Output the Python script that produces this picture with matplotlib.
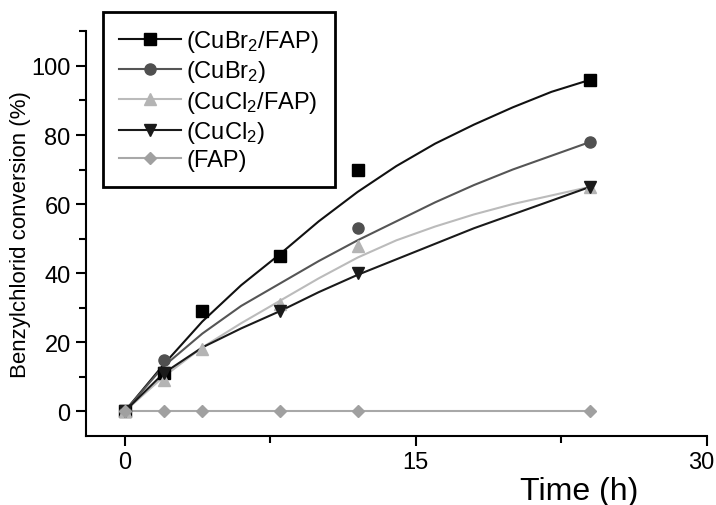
import numpy as np
import matplotlib
matplotlib.use("Agg")
import matplotlib.pyplot as plt
import matplotlib.transforms as mtransforms

plt.rcParams["font.family"] = ["Liberation Sans", "DejaVu Sans"]
plt.rcParams["mathtext.default"] = "regular"

# Measured points
t_points = [0, 2, 4, 8, 12, 24]
cubr2_fap = [0, 11, 29, 45, 70, 96]
t_cubr2 = [0, 2, 12, 24]
cubr2 = [0, 15, 53, 78]
cucl2_fap = [0, 9, 18, 31, 48, 65]
t_cucl2 = [0, 2, 8, 12, 24]
cucl2 = [0, 11, 29, 40, 65]
fap = [0, 0, 0, 0, 0, 0]

# Fitted curves
t_fit = [0, 2, 4, 6, 8, 10, 12, 14, 16, 18, 20, 22, 24]
fit_cubr2_fap = [0, 13.5, 26, 36.5, 45.5, 55, 63.5, 71, 77.5, 83, 88, 92.5, 96]
fit_cubr2 = [0, 13, 22.5, 30.5, 37, 43.5, 49.5, 55, 60.5, 65.5, 70, 74, 78]
fit_cucl2_fap = [0, 10, 18.5, 25.5, 32, 38.5, 44.5, 49.5, 53.5, 57, 60, 62.5, 65]
fit_cucl2 = [0, 11, 18.5, 24, 29, 34.5, 39.5, 44, 48.5, 53, 57, 61, 65]

series = [
    ("(CuBr$_2$/FAP)", t_points, cubr2_fap, fit_cubr2_fap, "s", "#000000", "#111111"),
    ("(CuBr$_2$)", t_cubr2, cubr2, fit_cubr2, "o", "#505050", "#555555"),
    ("(CuCl$_2$/FAP)", t_points, cucl2_fap, fit_cucl2_fap, "^", "#b4b4b4", "#bbbbbb"),
    ("(CuCl$_2$)", t_cucl2, cucl2, fit_cucl2, "v", "#1a1a1a", "#1a1a1a"),
    ("(FAP)", t_points, fap, None, "D", "#a0a0a0", "#a8a8a8"),
]

fig = plt.figure(figsize=(7.16, 5.06), dpi=100)
ax = fig.add_axes([0.120, 0.136, 0.867, 0.800])

handles = []
for label, tx, ty, fy, marker, mcolor, lcolor in series:
    if fy is not None:
        ax.plot(t_fit, fy, color=lcolor, lw=1.5, zorder=2)
    else:
        ax.plot(tx, ty, color=lcolor, lw=1.5, zorder=2)
    ms = 6.5 if marker == "D" else 8
    ax.plot(tx, ty, ls="none", marker=marker, ms=ms,
            color=mcolor, markeredgecolor=mcolor, zorder=3)
    h, = ax.plot([], [], color=lcolor, lw=1.5, marker=marker, ms=ms,
                 markerfacecolor=mcolor, markeredgecolor=mcolor)
    handles.append((h, label))

ax.set_xlim(-2, 30)
ax.set_ylim(-7.2, 110)

ax.spines["top"].set_visible(False)
ax.spines["right"].set_visible(False)
ax.spines["left"].set_linewidth(1.5)
ax.spines["bottom"].set_linewidth(1.5)

ax.set_xticks([0, 15, 30])
ax.set_xticks([7.5, 22.5], minor=True)
ax.set_yticks([0, 20, 40, 60, 80, 100])
ax.set_yticks([10, 30, 50, 70, 90, 110], minor=True)
ax.tick_params(which="both", direction="out", width=1.5, labelsize=17)
ax.tick_params(which="major", length=7.5)
ax.tick_params(which="minor", length=5)

# last x label is pushed a bit left, as in the original
fig.canvas.draw()
last = ax.get_xticklabels()[-1]
last.set_transform(last.get_transform() +
                   mtransforms.ScaledTranslation(-5 / 100, 0, fig.dpi_scale_trans))

ax.set_xlabel("Time (h)", fontsize=23)
ax.xaxis.set_label_coords(0.794, -0.098)
ax.set_ylabel("Benzylchlorid conversion (%)", fontsize=16)
ax.yaxis.set_label_coords(-0.088, 0.5)

leg = fig.legend(
    [h for h, _ in handles],
    [l for _, l in handles],
    loc="upper left",
    bbox_to_anchor=(0.144, 0.974),
    fontsize=17,
    handlelength=2.6,
    handletextpad=0.25,
    labelspacing=0.18,
    borderpad=0.68,
    borderaxespad=0,
    fancybox=False,
    framealpha=1,
    edgecolor="black",
)
leg.get_frame().set_linewidth(2)

plt.savefig("out.png", dpi=100)
